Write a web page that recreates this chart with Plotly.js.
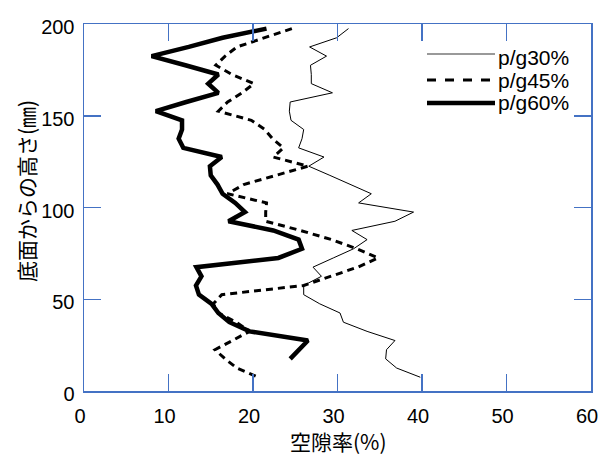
<!DOCTYPE html>
<html>
<head>
<meta charset="utf-8">
<script src="https://cdn.plot.ly/plotly-3.0.1.min.js"></script>
<style>
  html, body { margin: 0; padding: 0; background: #ffffff; }
  #chart { width: 601px; height: 456px; }
</style>
</head>
<body>
<div id="chart"></div>
<script>
// Height above the bottom (mm), sampled every 5 mm
const heights = [197.5, 192.5, 187.5, 182.5, 177.5, 172.5, 167.5, 162.5, 157.5, 152.5,
                 147.5, 142.5, 137.5, 132.5, 127.5, 122.5, 117.5, 112.5, 107.5, 102.5,
                 97.5, 92.5, 87.5, 82.5, 77.5, 72.5, 67.5, 62.5, 57.5, 52.5,
                 47.5, 42.5, 37.5, 32.5, 27.5, 22.5, 17.5, 12.5, 7.5];

// Void ratio (%) at each height
const voidPg30 = [31.3, 29.9, 26.7, 28.7, 26.8, 26.9, 26.9, 29.4, 24.4, 24.3,
                  24.5, 26.0, 25.8, 25.4, 28.4, 26.6, 29.1, 31.5, 34.0, 32.5,
                  39.0, 36.8, 31.7, 33.5, 31.9, 29.5, 27.1, 28.1, 26.0, 26.0,
                  27.9, 30.3, 30.7, 33.5, 36.8, 35.8, 35.7, 37.0, 39.8];

const voidPg45 = [24.6, 21.3, 18.1, 16.7, 15.6, 17.5, 20.1, 18.7, 17.0, 15.9,
                  19.8, 21.4, 22.3, 23.6, 22.4, 26.5, 22.7, 18.9, 17.0, 21.6,
                  21.5, 21.5, 25.6, 29.3, 32.3, 34.8, 32.4, 29.2, 26.0, 16.3,
                  15.3, 15.9, 18.0, 19.6, 17.5, 15.5, 16.7, 18.1, 20.6];

const voidPg60 = [21.6, 16.4, 12.4, 8.0, 12.0, 15.9, 14.7, 15.9, 12.1, 8.5,
                  11.6, 11.6, 11.2, 11.75, 16.3, 14.9, 15.0, 15.8, 16.4, 17.9,
                  19.05, 17.1, 22.4, 25.4, 25.8, 23.0, 13.3, 13.9, 13.25, 13.6,
                  15.1, 15.9, 17.2, 19.6, 26.5, 25.5, 24.4, null, null];

const seriesNames = ['p/g30%', 'p/g45%', 'p/g60%'];
const xTickVals = [0, 10, 20, 30, 40, 50, 60];
const yTickVals = [0, 50, 100, 150, 200];

const W = 601, H = 456;
const M = { l: 84, r: 10, t: 24, b: 65 };
const plotW = W - M.l - M.r, plotH = H - M.t - M.b;
// pixel position inside the figure -> paper fraction
const px = x => (x - M.l) / plotW;
const py = y => (H - M.b - y) / plotH;

const axisBlue = '#4472C4';
const tickFont = { family: 'Liberation Sans, Arial, sans-serif', size: 20, color: '#000' };
const jpFont = { family: 'Noto Sans CJK JP, sans-serif', size: 21, color: '#000' };

const lineStyles = [
  { color: '#000', width: 1 },
  { color: '#000', width: 3, dash: '7px,5px' },
  { color: '#000', width: 4.5 }
];
const legendSample = [
  { color: '#777', width: 1.5 },
  { color: '#000', width: 3, dash: 'dash' },
  { color: '#000', width: 4.5 }
];

const traces = [voidPg30, voidPg45, voidPg60].map((vals, i) => ({
  type: 'scatter',
  mode: 'lines',
  x: vals,
  y: heights,
  name: seriesNames[i],
  line: lineStyles[i],
  connectgaps: false,
  showlegend: false
}));

// legend rows: sample line + label
const legendLineY = [54, 80, 103];
const legendTextY = [57, 80, 102];
const shapes = seriesNames.map((n, i) => ({
  type: 'line', xref: 'paper', yref: 'paper',
  x0: px(427), x1: px(495), y0: py(legendLineY[i]), y1: py(legendLineY[i]),
  line: legendSample[i]
}));
const annotations = seriesNames.map((n, i) => ({
  text: n, xref: 'paper', yref: 'paper',
  x: px(496), y: py(legendTextY[i]), xanchor: 'left', yanchor: 'middle',
  showarrow: false, font: { family: tickFont.family, size: 21, color: '#000' }
}));
annotations.push({
  text: '底面からの高さ(㎜)', xref: 'paper', yref: 'paper',
  x: px(26), y: py(191), xanchor: 'center', yanchor: 'middle',
  textangle: -90, showarrow: false, font: jpFont
});
annotations.push({
  text: '空隙率(%)', xref: 'paper', yref: 'paper',
  x: px(338), y: py(441), xanchor: 'center', yanchor: 'middle',
  showarrow: false, font: jpFont
});

const axisCommon = {
  showline: true, linecolor: axisBlue, linewidth: 1.5, mirror: 'ticks',
  ticks: 'inside', ticklen: 17, tickwidth: 1.5, tickcolor: axisBlue,
  showgrid: false, zeroline: false, tickfont: tickFont, fixedrange: true
};

const layout = {
  width: W, height: H,
  margin: M,
  paper_bgcolor: '#fff', plot_bgcolor: '#fff',
  showlegend: false,
  xaxis: Object.assign({}, axisCommon, {
    range: [0, 60], tickvals: xTickVals, ticktext: xTickVals.map(String),
    ticklabelstandoff: 6, ticklabelshift: -4
  }),
  yaxis: Object.assign({}, axisCommon, {
    range: [0, 200], tickvals: yTickVals, ticktext: yTickVals.map(String),
    ticklabelstandoff: 4, ticklabelshift: 3
  }),
  shapes: shapes,
  annotations: annotations
};

Plotly.newPlot('chart', traces, layout, { staticPlot: true, displayModeBar: false });
</script>
</body>
</html>
